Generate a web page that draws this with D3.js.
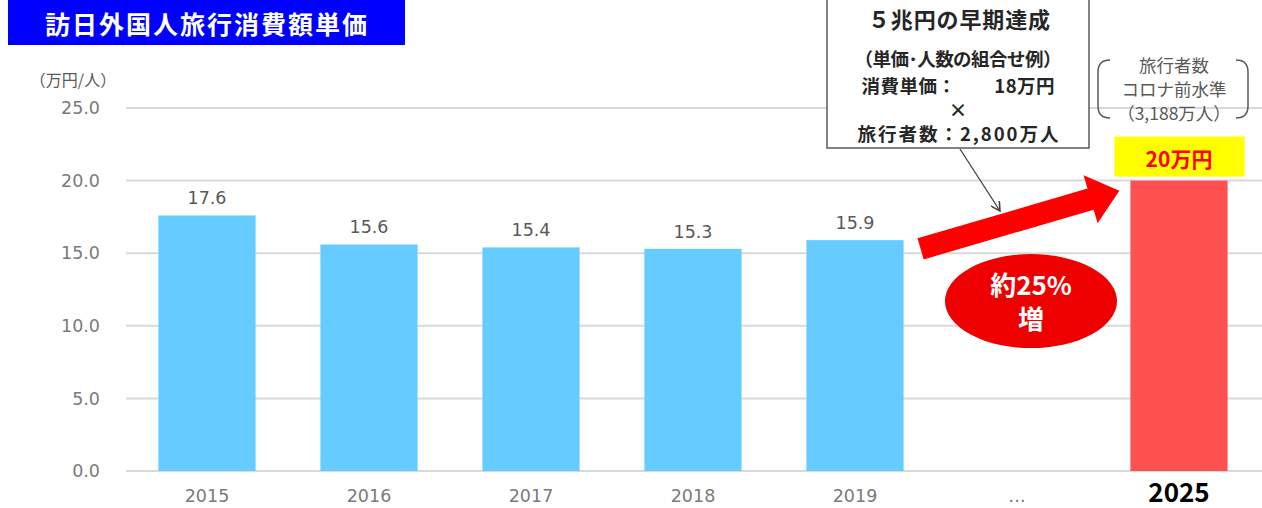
<!DOCTYPE html>
<meta charset="utf-8">
<script src="https://d3js.org/d3.v7.min.js"></script>
<style>
  body { margin: 0; background: #fff; }
  text { font-family: "Noto Sans CJK JP", "Noto Sans", sans-serif; }
</style>
<div id="chart"></div>
<script>

// data
const years = ["2015", "2016", "2017", "2018", "2019", "…", "2025"];
const values = [17.6, 15.6, 15.4, 15.3, 15.9, null, 20];
const yTicks = [0, 5, 10, 15, 20, 25];
const titleText = "訪日外国人旅行消費額単価";
const unitText = "（万円/人）";
const calloutLines = ["（単価･人数の組合せ例）", "消費単価：　　18万円", "×", "旅行者数：2,800万人"];
const bracketLines = ["旅行者数", "コロナ前水準", "（3,188万人）"];

const width = 1262, height = 508;
const numFont = "\"DejaVu Sans\", Verdana, sans-serif";

const svg = d3.select("#chart")
  .append("svg")
    .attr("width", width)
    .attr("height", height);

const x = d3.scaleBand()
  .domain(years)
  .range([126, 1260])
  .paddingInner(0.4)
  .paddingOuter(0.2);

const y = d3.scaleLinear()
  .domain([0, 25])
  .range([471, 108]);

// gridlines
svg.append("g")
  .selectAll("line")
  .data(yTicks)
  .join("line")
    .attr("x1", 126)
    .attr("x2", width)
    .attr("y1", d => y(d))
    .attr("y2", d => y(d))
    .style("stroke", "#d9d9d9")
    .style("stroke-width", 2);

// y axis labels
const yAxis = svg.append("g")
  .attr("transform", "translate(112,0)")
  .call(d3.axisLeft(y).tickValues(yTicks).tickFormat(d3.format(".1f")).tickSize(0).tickPadding(12));
yAxis.select(".domain").remove();
yAxis.selectAll("text")
  .style("font-size", "17.5px")
  .style("fill", "#7a7a7a")
  .style("font-family", numFont);

svg.append("text")
  .attr("x", 73)
  .attr("y", 79)
  .attr("text-anchor", "middle")
  .attr("dominant-baseline", "central")
  .style("font-size", "16px")
  .style("fill", "#595959")
  .text(unitText);

// bars
const data = years.map((yr, i) => ({ year: yr, value: values[i] })).filter(d => d.value !== null);

svg.append("g")
  .selectAll("rect")
  .data(data)
  .join("rect")
    .attr("x", d => x(d.year))
    .attr("y", d => y(d.value))
    .attr("width", x.bandwidth())
    .attr("height", d => y(0) - y(d.value))
    .style("fill", d => d.year === "2025" ? "#ff5050" : "#66ccff");

// value labels (historic bars)
svg.append("g")
  .selectAll("text")
  .data(data.filter(d => d.year !== "2025"))
  .join("text")
    .attr("x", d => x(d.year) + x.bandwidth() / 2)
    .attr("y", d => y(d.value) - 17)
    .attr("text-anchor", "middle")
    .attr("dominant-baseline", "central")
    .style("font-family", numFont)
    .style("font-size", "17.5px")
    .style("fill", "#595959")
    .text(d => d.value.toFixed(1));

// x axis labels
const xAxis = svg.append("g")
  .attr("transform", `translate(0, ${y(0)})`)
  .call(d3.axisBottom(x).tickSize(0).tickPadding(19));
xAxis.select(".domain").remove();
xAxis.selectAll("text")
  .style("font-family", d => d === "2025" ? "\"Noto Sans CJK JP\", sans-serif" : numFont)
  .style("font-size", d => d === "2025" ? "26px" : "17.5px")
  .style("font-weight", d => d === "2025" ? "bold" : "normal")
  .style("fill", d => d === "2025" ? "#000" : "#7a7a7a")
  .attr("dy", d => d === "2025" ? "0.45em" : "0.71em");

// title box
svg.append("rect")
  .attr("x", 8).attr("y", -2)
  .attr("width", 397).attr("height", 47)
  .style("fill", "#0000ff");
svg.append("text")
  .attr("x", 206)
  .attr("y", 23)
  .attr("text-anchor", "middle")
  .attr("dominant-baseline", "central")
  .attr("textLength", 322)
  .attr("lengthAdjust", "spacing")
  .style("font-size", "25px")
  .style("font-weight", "bold")
  .style("fill", "#fff")
  .text(titleText);

// big red arrow from 2019 bar towards 2025 bar
const cx2019 = x("2019") + x.bandwidth();
const tail = [cx2019 + 17, y(15.3)];
const tip = [x("2025") - 11, y(19.3)];
const L = Math.hypot(tip[0] - tail[0], tip[1] - tail[1]);
const ang = Math.atan2(tip[1] - tail[1], tip[0] - tail[0]) * 180 / Math.PI;
const headLen = 30, shaftHalf = 11, headHalf = 25;
svg.append("path")
  .attr("transform", `translate(${tail[0]},${tail[1]}) rotate(${ang})`)
  .attr("d", `M0,${-shaftHalf} L${L - headLen},${-shaftHalf} L${L - headLen},${-headHalf} L${L},0 L${L - headLen},${headHalf} L${L - headLen},${shaftHalf} L0,${shaftHalf} Z`)
  .style("fill", "#ff0000");

// ellipse "約25% 増"
const ex = x("…") + x.bandwidth() / 2 + 14, ey = y(11.7);
svg.append("ellipse")
  .attr("cx", ex).attr("cy", ey)
  .attr("rx", 86).attr("ry", 47)
  .style("fill", "#ee0000");
const pct = svg.append("text")
  .attr("text-anchor", "middle")
  .style("font-size", "26px")
  .style("font-weight", "bold")
  .style("fill", "#fff");
pct.append("tspan").attr("x", ex).attr("y", ey - 6).text("約25%");
pct.append("tspan").attr("x", ex).attr("y", ey + 28).text("増");

// callout box
svg.append("defs").append("marker")
  .attr("id", "vhead")
  .attr("viewBox", "0 0 10 10")
  .attr("refX", 9).attr("refY", 5)
  .attr("markerWidth", 8).attr("markerHeight", 8)
  .attr("orient", "auto")
  .append("path")
    .attr("d", "M0,0 L9,5 L0,10")
    .style("fill", "none")
    .style("stroke", "#404040")
    .style("stroke-width", 1.5);

svg.append("line")
  .attr("x1", 960).attr("y1", 149)
  .attr("x2", 1000).attr("y2", 211)
  .attr("marker-end", "url(#vhead)")
  .style("stroke", "#404040")
  .style("stroke-width", 1.3);

svg.append("rect")
  .attr("x", 827).attr("y", -5)
  .attr("width", 262).attr("height", 153)
  .style("fill", "#fff")
  .style("stroke", "#595959")
  .style("stroke-width", 1.5);

svg.append("text")
  .attr("x", 959).attr("y", 18)
  .attr("text-anchor", "middle")
  .attr("dominant-baseline", "central")
  .attr("textLength", 182)
  .attr("lengthAdjust", "spacing")
  .style("font-size", "22px")
  .style("font-weight", "bold")
  .style("fill", "#262626")
  .text("５兆円の早期達成");

const calloutWidths = [207, 193, null, 201];
svg.append("g")
  .selectAll("text")
  .data(calloutLines)
  .join("text")
    .attr("x", 958)
    .attr("y", (d, i) => [58, 85, 109, 133][i])
    .attr("text-anchor", "middle")
    .attr("dominant-baseline", "central")
    .attr("textLength", (d, i) => calloutWidths[i])
    .attr("lengthAdjust", "spacing")
    .style("font-size", "18.5px")
    .style("font-weight", "bold")
    .style("fill", "#262626")
    .text(d => d);

// bracket note
svg.append("g")
  .selectAll("text")
  .data(bracketLines)
  .join("text")
    .attr("x", 1174)
    .attr("y", (d, i) => [64, 88, 112][i])
    .attr("text-anchor", "middle")
    .attr("dominant-baseline", "central")
    .style("font-size", "17.5px")
    .style("fill", "#595959")
    .text(d => d);

svg.append("path")
  .attr("d", "M1110,60 Q1098,60 1098,72 L1098,106 Q1098,118 1110,118")
  .style("fill", "none").style("stroke", "#595959").style("stroke-width", 1.5);
svg.append("path")
  .attr("d", "M1236,60 Q1248,60 1248,72 L1248,106 Q1248,118 1236,118")
  .style("fill", "none").style("stroke", "#595959").style("stroke-width", 1.5);

// yellow label on 2025
svg.append("rect")
  .attr("x", x("2025") - 16).attr("y", y(20) - 44)
  .attr("width", x.bandwidth() + 33).attr("height", 40)
  .style("fill", "#ffff00");
svg.append("text")
  .attr("x", x("2025") + x.bandwidth() / 2)
  .attr("y", y(20) - 23)
  .attr("text-anchor", "middle")
  .attr("dominant-baseline", "central")
  .style("font-size", "21px")
  .style("font-weight", "bold")
  .style("fill", "#ff0000")
  .text("20万円");

</script>
